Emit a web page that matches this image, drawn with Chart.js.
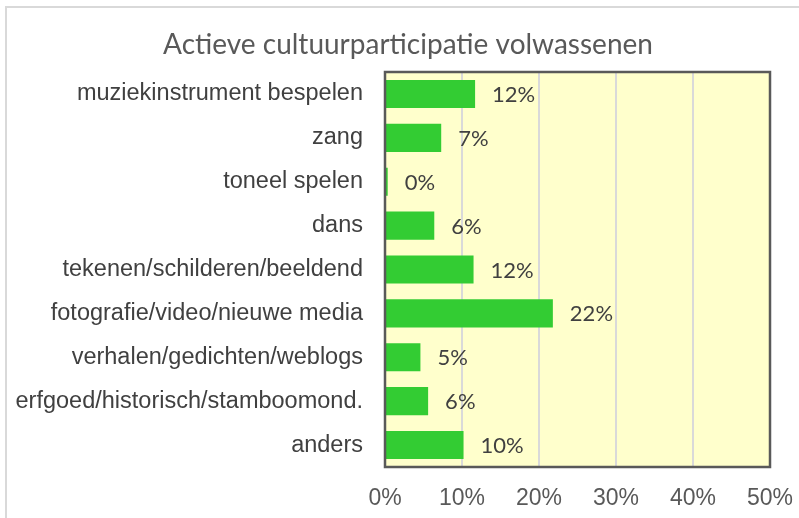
<!DOCTYPE html>
<html lang="nl">
<head>
<meta charset="utf-8">
<title>Actieve cultuurparticipatie volwassenen</title>
<script src="https://cdn.jsdelivr.net/npm/chart.js@4"></script>
<style>
  html, body { margin: 0; padding: 0; background: #ffffff; }
  #wrap { width: 799px; height: 518px; position: relative; }
</style>
</head>
<body>
<div id="wrap"><canvas id="grafiek" width="799" height="518"></canvas></div>
<script>
// ---------- Data ----------
const categorieen = [
  "muziekinstrument bespelen",
  "zang",
  "toneel spelen",
  "dans",
  "tekenen/schilderen/beeldend",
  "fotografie/video/nieuwe media",
  "verhalen/gedichten/weblogs",
  "erfgoed/historisch/stamboomond.",
  "anders",
];
const percentages = [11.7, 7.3, 0.35, 6.4, 11.5, 21.8, 4.6, 5.6, 10.2];
const asTicks = [0, 10, 20, 30, 40, 50];
const titel = "Actieve cultuurparticipatie volwassenen";

// ---------- Kleuren ----------
const GROEN = "#33cc33";
const GEEL = "#ffffcc";
const RAND = "#595959";
const RASTER = "#d9d9d9";
const TEKST = "#404040";

// ---------- Plugins ----------
// lichte kader rond de grafiek, titel en gele achtergrond van het plotgebied
const achtergrond = {
  id: "achtergrond",
  beforeDraw(chart) {
    const { ctx, chartArea: a } = chart;
    ctx.save();
    ctx.strokeStyle = RASTER;
    ctx.lineWidth = 2;
    ctx.beginPath();
    ctx.moveTo(6, chart.height + 2);
    ctx.lineTo(6, 7);
    ctx.lineTo(chart.width + 2, 7);
    ctx.stroke();

    ctx.fillStyle = RAND;
    ctx.font = "28px Lato";
    ctx.textAlign = "center";
    ctx.textBaseline = "middle";
    ctx.fillText(titel, 408, 45);

    ctx.fillStyle = GEEL;
    ctx.fillRect(a.left, a.top, a.right - a.left, a.bottom - a.top);
    ctx.restore();
  },
};

// donkere rand om plotgebied + percentages naast de balken
const labels = {
  id: "labels",
  afterDatasetsDraw(chart) {
    const { ctx, chartArea: a } = chart;
    ctx.save();
    ctx.strokeStyle = RAND;
    ctx.lineWidth = 2.5;
    ctx.strokeRect(a.left, a.top, a.right - a.left, a.bottom - a.top);

    ctx.fillStyle = TEKST;
    ctx.font = "22px Lato";
    ctx.textAlign = "left";
    ctx.textBaseline = "middle";
    chart.getDatasetMeta(0).data.forEach((bar, i) => {
      ctx.fillText(Math.round(percentages[i]) + "%", bar.x + 17, bar.y + 1);
    });
    ctx.restore();
  },
};

// ---------- Grafiek ----------
new Chart(document.getElementById("grafiek"), {
  type: "bar",
  data: {
    labels: categorieen,
    datasets: [
      {
        data: percentages,
        backgroundColor: GROEN,
        borderWidth: 0,
        categoryPercentage: 0.64,
        barPercentage: 1,
      },
    ],
  },
  options: {
    indexAxis: "y",
    responsive: false,
    animation: false,
    events: [],
    layout: { padding: { left: 0, right: 29, top: 72, bottom: 0 } },
    plugins: {
      legend: { display: false },
      tooltip: { enabled: false },
      title: { display: false },
    },
    scales: {
      x: {
        min: 0,
        max: 50,
        afterBuildTicks: (s) => { s.ticks = asTicks.map((v) => ({ value: v })); },
        afterFit: (s) => {
          s.height = 51;
          s.paddingLeft = 0;
          s.paddingRight = 0;
        },
        grid: { color: RASTER, lineWidth: 2, drawTicks: false },
        border: { display: false },
        ticks: {
          padding: 18,
          color: RAND,
          font: { family: "Liberation Sans", size: 23 },
          callback: (v) => v + "%",
        },
      },
      y: {
        afterFit: (s) => {
          s.width = 385;
          s.paddingTop = 0;
          s.paddingBottom = 0;
        },
        grid: { display: false, drawTicks: false },
        border: { display: false },
        ticks: {
          padding: 22,
          color: TEKST,
          font: { family: "Liberation Sans", size: 23.5 },
        },
      },
    },
  },
  plugins: [achtergrond, labels],
});
</script>
</body>
</html>
